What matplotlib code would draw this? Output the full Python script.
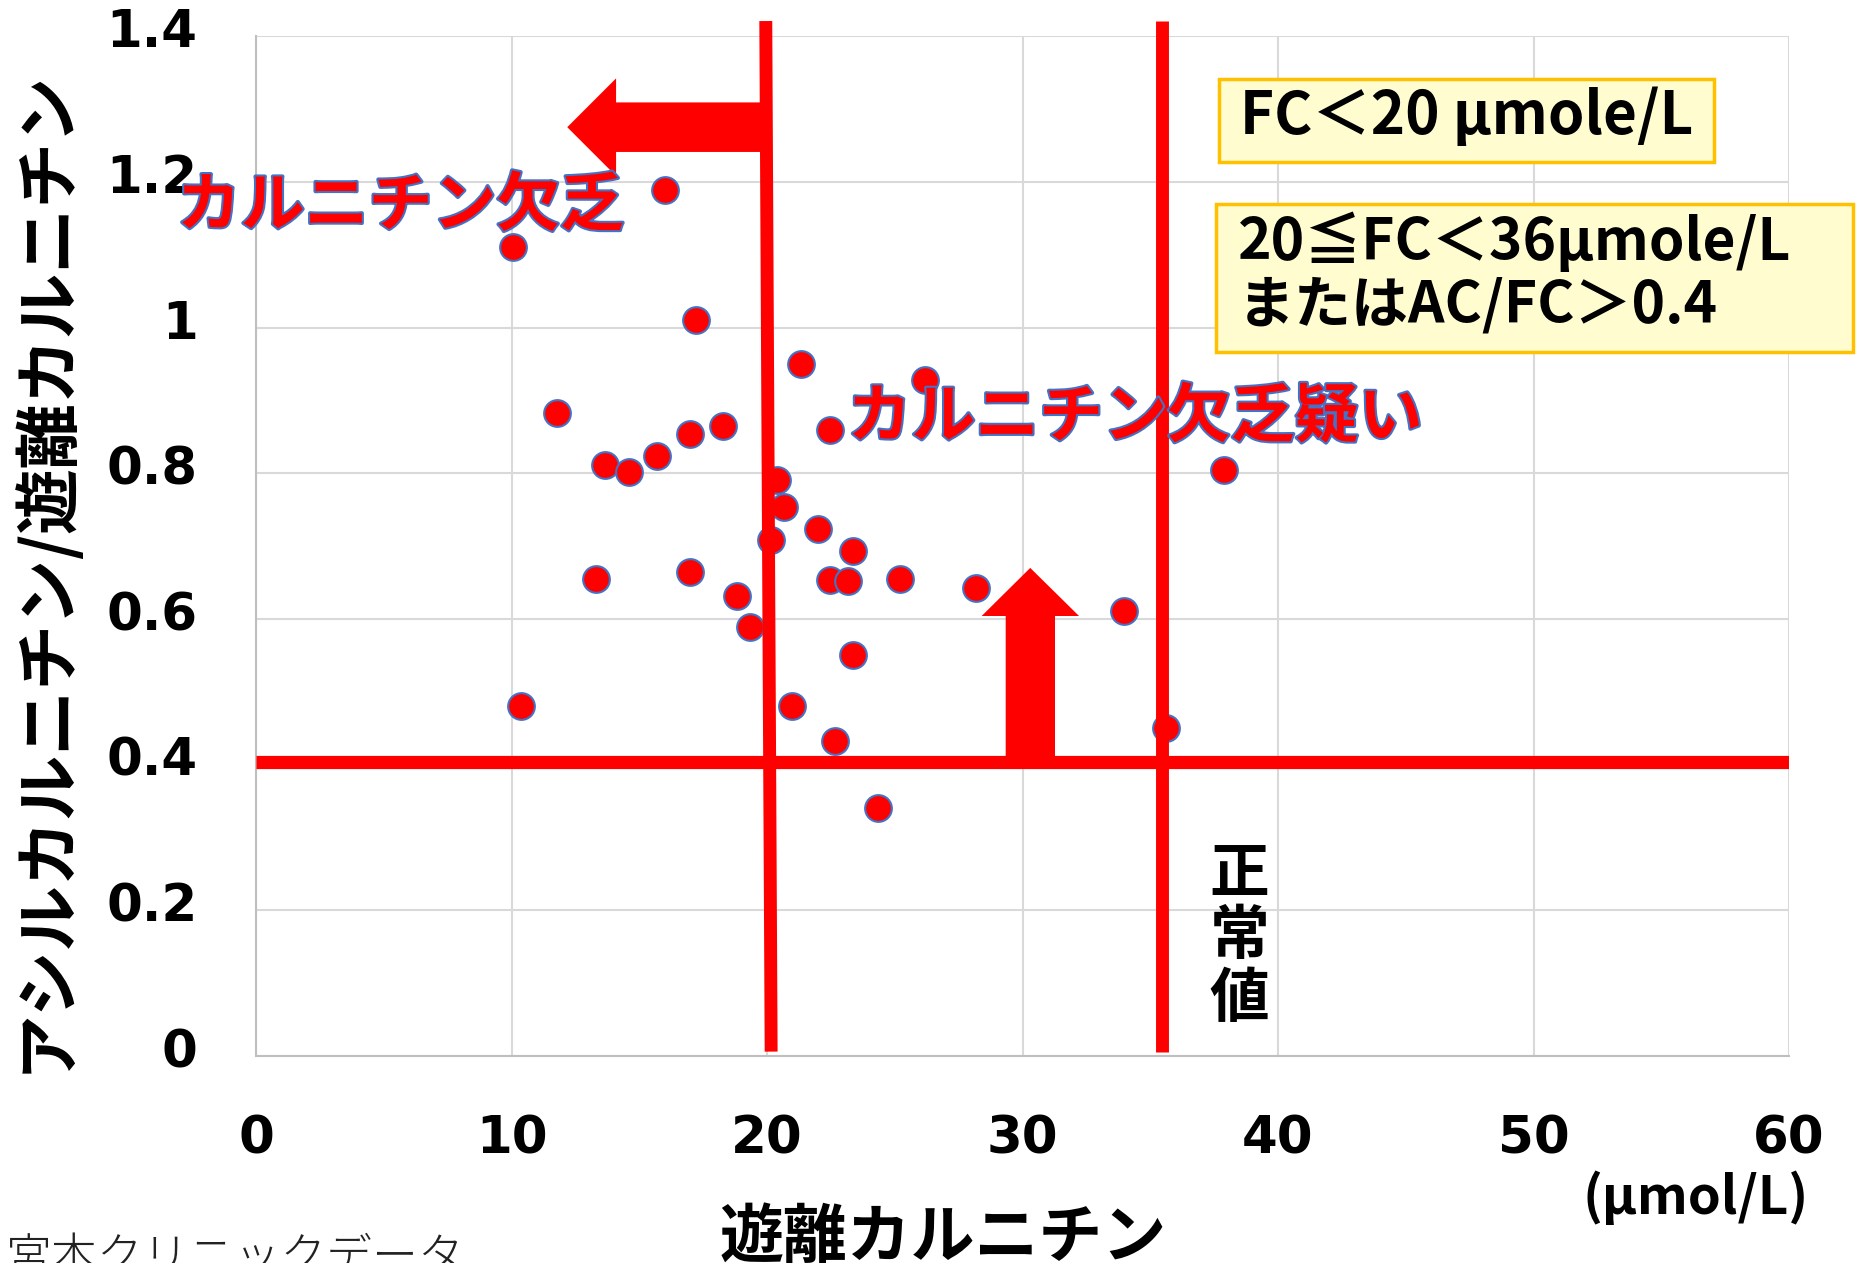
import matplotlib
matplotlib.use('Agg')
import matplotlib.pyplot as plt
import matplotlib.patheffects as pe
from matplotlib.patches import Polygon, Rectangle
from matplotlib.transforms import ScaledTranslation

plt.rcParams['font.family'] = ['Noto Sans CJK JP', 'DejaVu Sans']

# 遊離カルニチン (µmol/L) と AC/FC 比
fc = [10.05, 16.0, 17.2, 11.76, 13.66, 14.58, 15.69, 16.99, 18.29, 21.34, 22.45,
      26.2, 37.87, 20.37, 20.65, 22.0, 20.14, 23.38, 13.29, 16.99, 18.84, 19.35,
      22.45, 23.15, 25.19, 28.19, 33.98, 23.38, 10.37, 20.97, 22.64, 35.6, 24.35]
ratio = [1.111, 1.189, 1.011, 0.883, 0.811, 0.802, 0.823, 0.854, 0.865, 0.950, 0.860,
         0.928, 0.805, 0.790, 0.754, 0.724, 0.709, 0.693, 0.655, 0.665, 0.631, 0.589,
         0.654, 0.652, 0.655, 0.642, 0.611, 0.551, 0.481, 0.481, 0.433, 0.450, 0.340]

xticks = [0, 10, 20, 30, 40, 50, 60]
yticks = [0, 0.2, 0.4, 0.6, 0.8, 1.0, 1.2, 1.4]
ytick_labels = ['0', '0.2', '0.4', '0.6', '0.8', '1', '1.2', '1.4']

fc_cut = 20
fc_normal = 35.45
ratio_cut = 0.404

RED = '#FF0000'
BLUE = '#4472C4'

fig = plt.figure(figsize=(18.57, 12.63), dpi=100)
ax = fig.add_axes([0.1379, 0.1639, 0.8255, 0.8075])

ax.set_xlim(0, 60)
ax.set_ylim(0, 1.4)
ax.set_xticks(xticks)
ax.set_xticklabels([str(v) for v in xticks])
ax.set_yticks(yticks)
ax.set_yticklabels(ytick_labels)
for lab in ax.get_xticklabels() + ax.get_yticklabels():
    lab.set_family('DejaVu Sans')
    lab.set_fontweight('bold')
    lab.set_fontsize(37)
ax.tick_params(axis='x', length=0, pad=42)
ax.tick_params(axis='y', length=0, pad=42)
# 縦軸の目盛ラベルを少し上へ
shift = ScaledTranslation(0, 6 / 72, fig.dpi_scale_trans)
for lab in ax.get_yticklabels():
    lab.set_transform(lab.get_transform() + shift)
ax.grid(color='#D9D9D9', lw=1.5)
ax.set_axisbelow(True)
for s in ['top', 'right']:
    ax.spines[s].set_visible(False)
for s in ['left', 'bottom']:
    ax.spines[s].set_color('#BFBFBF')
    ax.spines[s].set_linewidth(1.5)

ax.scatter(fc, ratio, s=370, c=RED, edgecolors=BLUE, linewidths=1.5, zorder=3)

# 基準線
ax.plot([fc_cut - 0.05, fc_cut + 0.16], [1.4207, 0.006], color=RED, lw=9.3,
        solid_capstyle='butt', clip_on=False, zorder=4)
ax.plot([fc_normal, fc_normal], [1.4207, 0.006], color=RED, lw=9.3,
        solid_capstyle='butt', clip_on=False, zorder=4)
ax.plot([0, 60], [ratio_cut, ratio_cut], color=RED, lw=9.5,
        solid_capstyle='butt', zorder=4)

# 矢印
ly, lbar, lhead = 1.275, 0.034, 0.067
left_arrow = [(19.9, ly + lbar), (14.09, ly + lbar), (14.09, ly + lhead), (12.18, ly),
              (14.09, ly - lhead), (14.09, ly - lbar), (19.9, ly - lbar)]
ax.add_patch(Polygon(left_arrow, closed=True, color=RED, lw=0, zorder=4, clip_on=False))
up_arrow = [(29.34, ratio_cut), (29.34, 0.604), (28.40, 0.604), (30.3, 0.670),
            (32.21, 0.604), (31.27, 0.604), (31.27, ratio_cut)]
ax.add_patch(Polygon(up_arrow, closed=True, color=RED, lw=0, zorder=4))

outline = [pe.Stroke(linewidth=3, foreground=BLUE), pe.Normal()]
ax.text(-3.1, 1.166, 'カルニチン欠乏', color=RED, fontsize=46, fontweight='bold',
        ha='left', va='center', path_effects=outline, zorder=5, clip_on=False)
ax.text(23.15, 0.876, 'カルニチン欠乏疑い', color=RED, fontsize=46, fontweight='bold',
        ha='left', va='center', path_effects=outline, zorder=5)

# 条件ボックス
box_face = '#FFFDD0'
box_edge = '#FFC000'
ax.add_patch(Rectangle((37.68, 1.2269), 57.05 - 37.68, 1.3407 - 1.2269, fc=box_face,
                       ec=box_edge, lw=2.5, zorder=5, clip_on=False))
ax.text(38.5, 1.2656, 'FC＜20 µmole/L', fontsize=42, fontweight='bold',
        ha='left', va='baseline', zorder=6)
ax.add_patch(Rectangle((37.57, 0.967), 62.52 - 37.57, 1.170 - 0.967, fc=box_face,
                       ec=box_edge, lw=2.5, zorder=5, clip_on=False))
ax.text(38.42, 1.0927, '20≦FC＜36µmole/L', fontsize=41, fontweight='bold',
        ha='left', va='baseline', zorder=6, clip_on=False)
ax.text(38.42, 1.0062, 'またはAC/FC＞0.4', fontsize=41, fontweight='bold',
        ha='left', va='baseline', zorder=6, clip_on=False)

ax.text(38.5, 0.163, '正\n常\n値', fontsize=43, fontweight='bold', ha='center',
        va='center', linespacing=1.05, zorder=5)

fig.text(0.0242, 0.548, 'アシルカルニチン/遊離カルニチン', rotation=90, fontsize=47,
         fontweight='bold', ha='center', va='center')
fig.text(0.508, 0.0198, '遊離カルニチン', fontsize=46, fontweight='bold',
         ha='center', va='center')
fig.text(0.913, 0.052, '(µmol/L)', fontsize=38, fontweight='bold',
         ha='center', va='center')
fig.text(0.003, 0.004, '宮本クリニックデータ', fontsize=33, fontweight='light',
         color='#222222', ha='left', va='center')

fig.savefig('out.png', dpi=100)
